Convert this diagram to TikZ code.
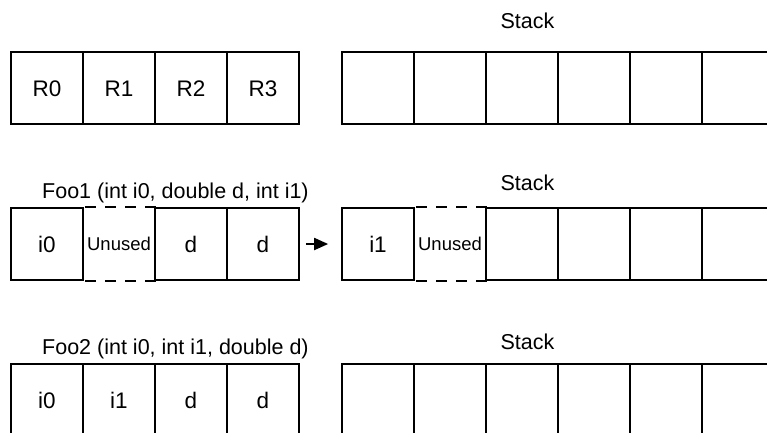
\documentclass[tikz,border=0pt]{standalone}
\usepackage{fontspec}
\setmainfont{Liberation Sans}
\usetikzlibrary{arrows.meta}
\begin{document}
\begin{tikzpicture}[x=1pt,y=-1pt,
  cell/.style={draw, line width=1.7pt, minimum width=72pt, minimum height=72pt,
    inner sep=0pt, font=\fontsize{22.5}{26}\selectfont, text height=16pt, text depth=0pt},
  gapcell/.style={cell, draw=none, font=\fontsize{18.5}{22}\selectfont, text height=13.3pt},
  dashline/.style={line width=1.7pt, dash pattern=on 11pt off 9pt, dash phase=17pt},
  lbl/.style={font=\fontsize{21.5}{26}\selectfont, inner sep=0pt},
  arr/.style={line width=1.9pt, -{Triangle[length=14pt,width=12pt]}}]
\clip (0,0) rectangle (767,432);
\fill[white] (0,0) rectangle (767,432);

% Row 1
\node[lbl, anchor=base] (st1) at (527.5,28) {Stack};
\node[cell] (a1) at (47,88) {R0};
\node[cell] (a2) at (119,88) {R1};
\node[cell] (a3) at (191,88) {R2};
\node[cell] (a4) at (263,88) {R3};
\foreach \i/\x in {1/378,2/450,3/522,4/594,5/666,6/738}
  \node[cell] (s1\i) at (\x,88) {};

% Row 2
\node[lbl, anchor=base west] (foo1) at (42,198) {Foo1 (int i0, double d, int i1)};
\node[lbl, anchor=base] (st2) at (527.5,190.5) {Stack};
\node[cell] (b1) at (47,244) {i0};
\node[gapcell] (b2) at (119,244) {Unused};
\node[cell] (b3) at (191,244) {d};
\node[cell] (b4) at (263,244) {d};
\draw[dashline] (b2.north west) -- (b2.north east);
\draw[dashline] (b2.south west) -- (b2.south east);
\node[cell] (s21) at (378,244) {i1};
\node[gapcell] (s22) at (450,244) {Unused};
\draw[dashline] (s22.north west) -- (s22.north east);
\draw[dashline] (s22.south west) -- (s22.south east);
\foreach \i/\x in {3/522,4/594,5/666,6/738}
  \node[cell] (s2\i) at (\x,244) {};
\draw[arr] ([xshift=6pt]b4.east) -- ([xshift=-13pt]s21.west);

% Row 3
\node[lbl, anchor=base west] (foo2) at (42,354) {Foo2 (int i0, int i1, double d)};
\node[lbl, anchor=base] (st3) at (527.5,349) {Stack};
\node[cell] (c1) at (47,400) {i0};
\node[cell] (c2) at (119,400) {i1};
\node[cell] (c3) at (191,400) {d};
\node[cell] (c4) at (263,400) {d};
\foreach \i/\x in {1/378,2/450,3/522,4/594,5/666,6/738}
  \node[cell] (s3\i) at (\x,400) {};
\end{tikzpicture}
\end{document}
